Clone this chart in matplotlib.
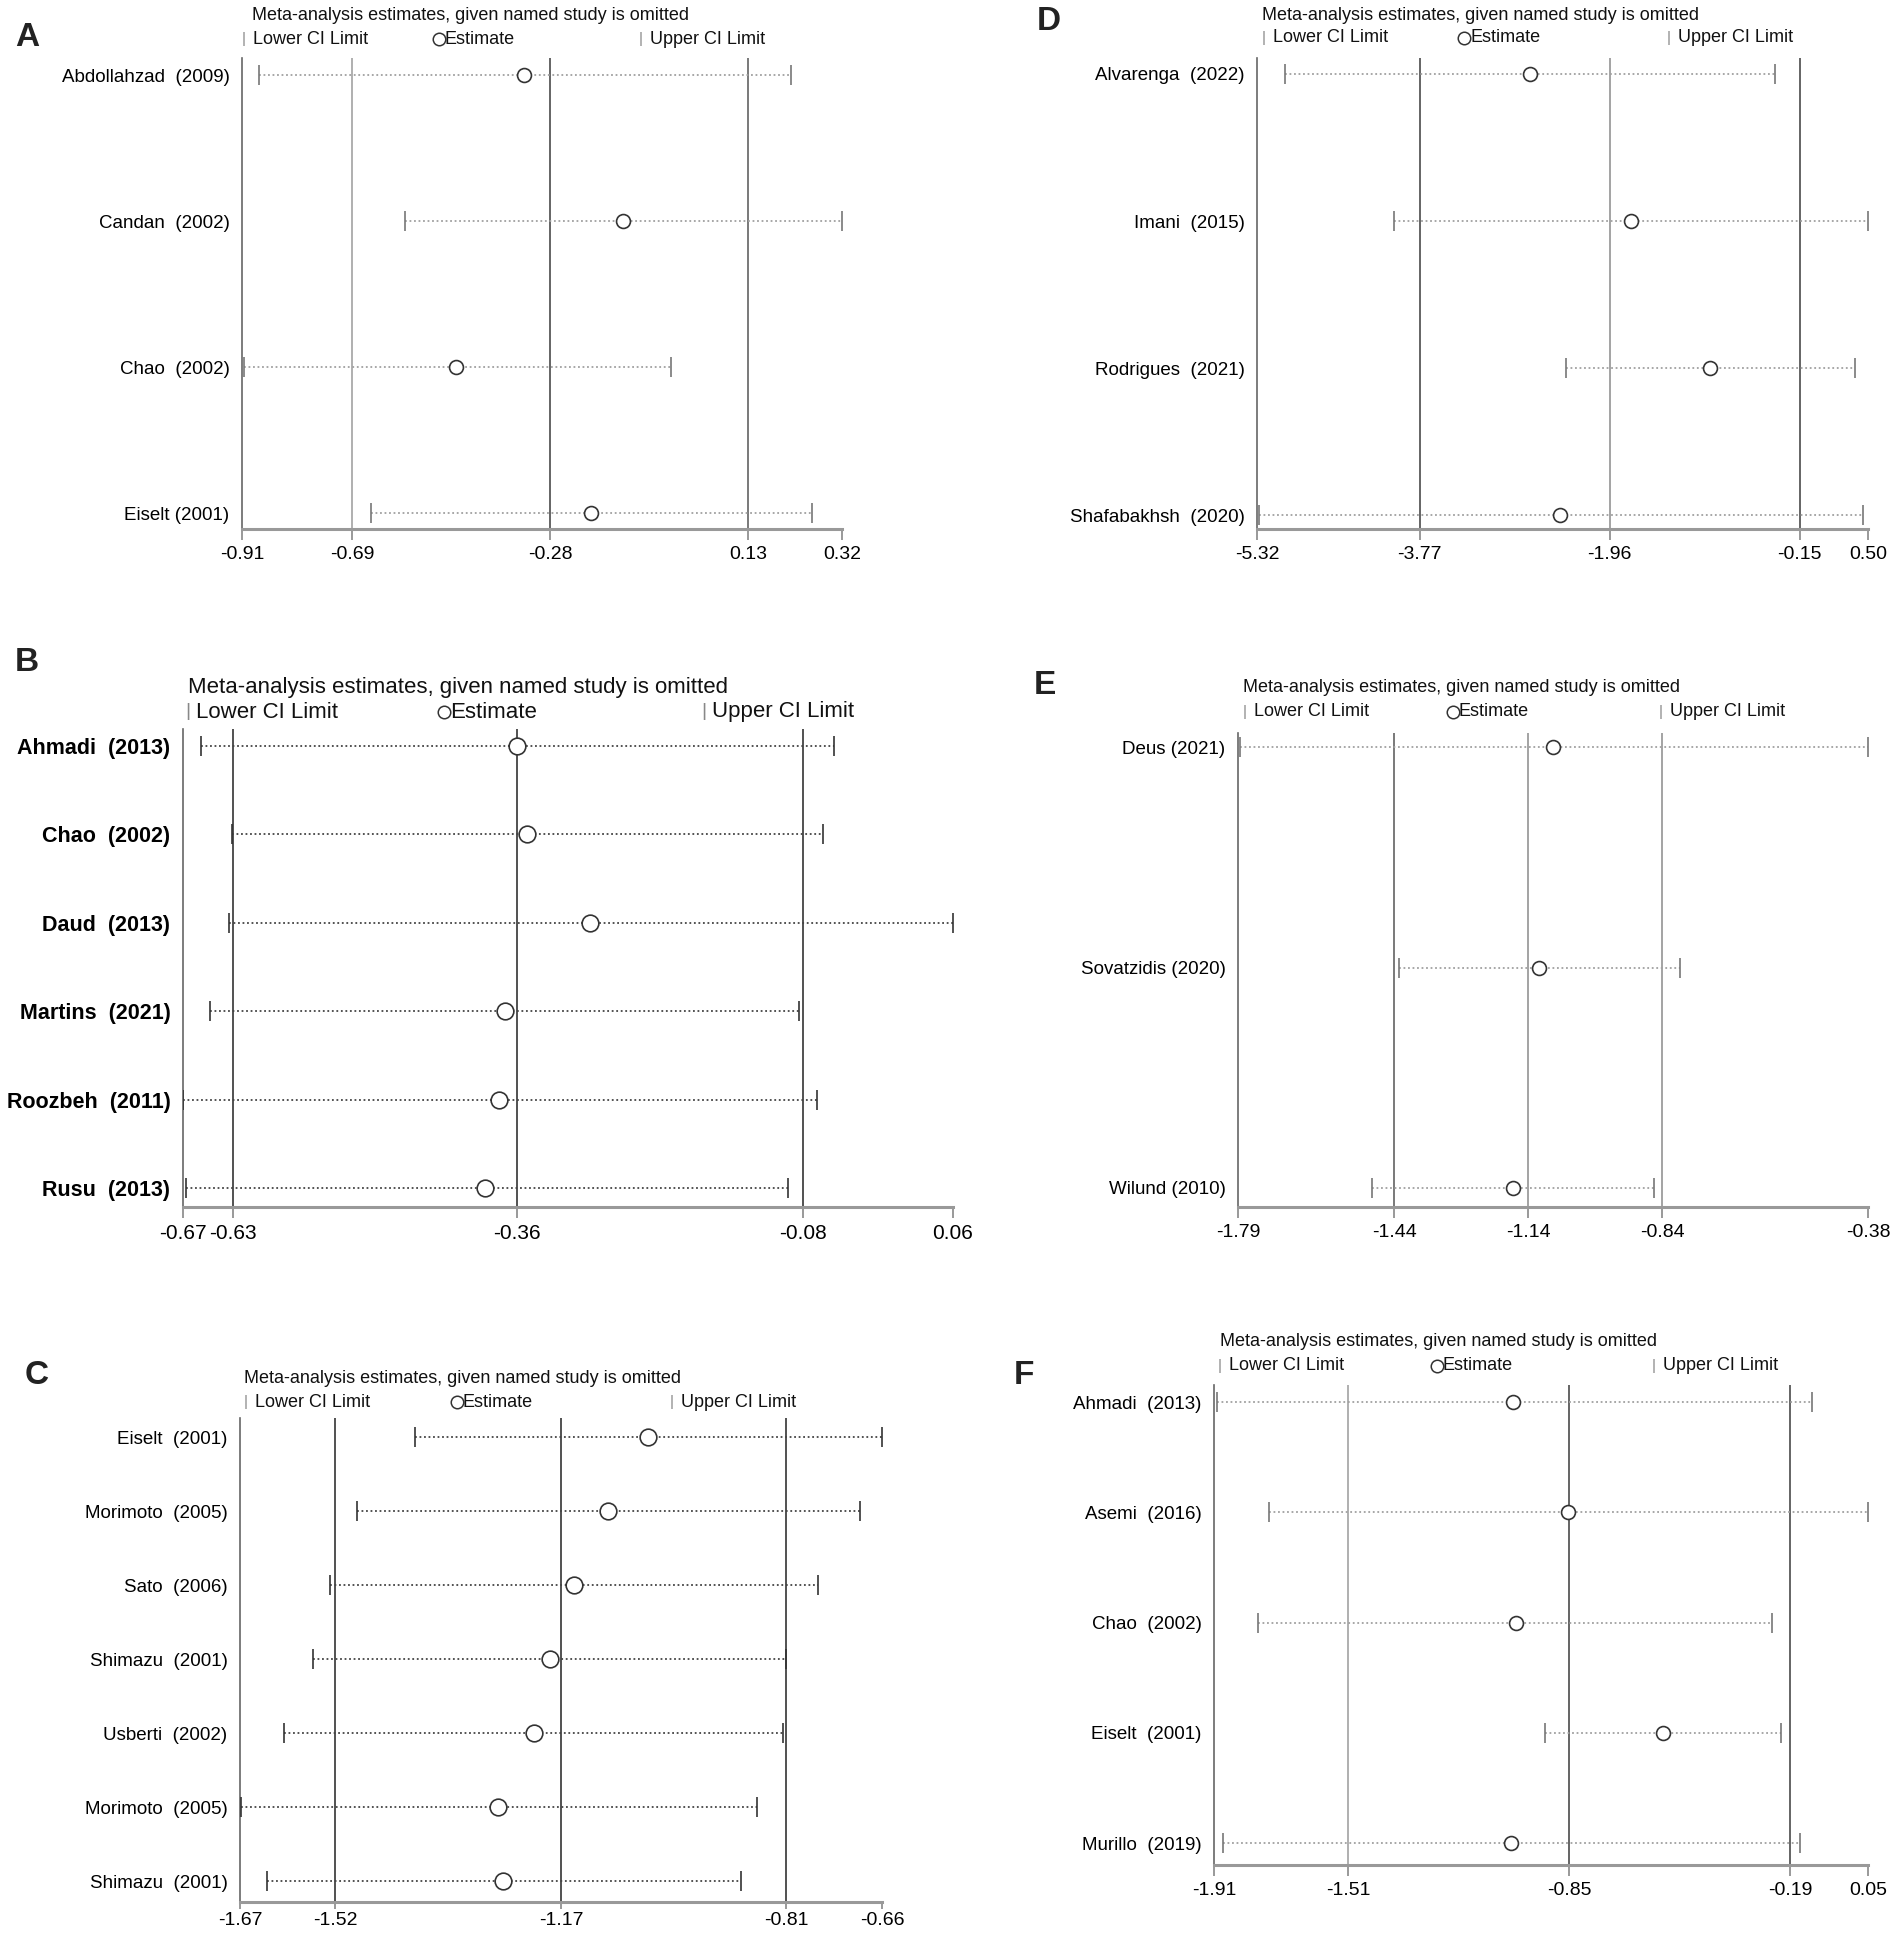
import matplotlib
matplotlib.use("Agg")
import matplotlib.pyplot as plt
from matplotlib.lines import Line2D

W, H = 1902, 1935

# ---------------- data ----------------
A_studies = ["Abdollahzad  (2009)", "Candan  (2002)", "Chao  (2002)", "Eiselt (2001)"]
A_lower = [-0.876, -0.576, -0.905, -0.646]
A_est = [-0.331, -0.129, -0.471, -0.194]
A_upper = [0.216, 0.320, -0.030, 0.259]
A_ticks = [-0.91, -0.684, -0.278, 0.127, 0.32]
A_ticklabels = ["-0.91", "-0.69", "-0.28", "0.13", "0.32"]

B_studies = ["Ahmadi  (2013)", "Chao  (2002)", "Daud  (2013)", "Martins  (2021)", "Roozbeh  (2011)", "Rusu  (2013)"]
B_lower = [-0.653, -0.624, -0.626, -0.644, -0.670, -0.667]
B_est = [-0.353, -0.344, -0.284, -0.365, -0.370, -0.384]
B_upper = [-0.053, -0.063, 0.060, -0.086, -0.069, -0.096]
B_ticks = [-0.67, -0.623, -0.353, -0.082, 0.06]
B_ticklabels = ["-0.67", "-0.63", "-0.36", "-0.08", "0.06"]

C_studies = ["Eiselt  (2001)", "Morimoto  (2005)", "Sato  (2006)", "Shimazu  (2001)", "Usberti  (2002)", "Morimoto  (2005)", "Shimazu  (2001)"]
C_lower = [-1.394, -1.486, -1.529, -1.555, -1.600, -1.668, -1.628]
C_est = [-1.028, -1.091, -1.145, -1.183, -1.208, -1.264, -1.256]
C_upper = [-0.660, -0.695, -0.761, -0.811, -0.816, -0.857, -0.882]
C_ticks = [-1.67, -1.52, -1.165, -0.811, -0.66]
C_ticklabels = ["-1.67", "-1.52", "-1.17", "-0.81", "-0.66"]

D_studies = ["Alvarenga  (2022)", "Imani  (2015)", "Rodrigues  (2021)", "Shafabakhsh  (2020)"]
D_lower = [-5.054, -4.013, -2.381, -5.297]
D_est = [-2.722, -1.762, -1.004, -2.433]
D_upper = [-0.385, 0.500, 0.373, 0.454]
D_ticks = [-5.32, -3.77, -1.96, -0.15, 0.50]
D_ticklabels = ["-5.32", "-3.77", "-1.96", "-0.15", "0.50"]

E_studies = ["Deus (2021)", "Sovatzidis (2020)", "Wilund (2010)"]
E_lower = [-1.785, -1.430, -1.490]
E_est = [-1.086, -1.116, -1.175]
E_upper = [-0.380, -0.801, -0.859]
E_ticks = [-1.79, -1.44, -1.14, -0.84, -0.38]
E_ticklabels = ["-1.79", "-1.44", "-1.14", "-0.84", "-0.38"]

F_studies = ["Ahmadi  (2013)", "Asemi  (2016)", "Chao  (2002)", "Eiselt  (2001)", "Murillo  (2019)"]
F_lower = [-1.901, -1.746, -1.777, -0.919, -1.883]
F_est = [-1.015, -0.850, -1.006, -0.565, -1.021]
F_upper = [-0.119, 0.050, -0.237, -0.210, -0.155]
F_ticks = [-1.91, -1.508, -0.846, -0.183, 0.05]
F_ticklabels = ["-1.91", "-1.51", "-0.85", "-0.19", "0.05"]

TITLE = "Meta-analysis estimates, given named study is omitted"
LEG = ["Lower CI Limit", "Estimate", "Upper CI Limit"]

# ---------------- layout / style ----------------
NARROW = ["Liberation Sans Narrow", "Liberation Sans", "DejaVu Sans"]
REG = ["Liberation Sans", "DejaVu Sans"]

panels = [
    dict(letter="A", studies=A_studies, lo=A_lower, est=A_est, hi=A_upper, ticks=A_ticks, tl=A_ticklabels,
         box=(242, 58, 842, 529), rows=(75, 513), lab=(27, 37), title=(252, 16), leg=(242, 433, 639, 39),
         vcol=["#9a9a9a", "#3a3a3a", "#555555"], dark=False, font=NARROW, fs=13.5, tfs=13, tickfs=14),
    dict(letter="B", studies=B_studies, lo=B_lower, est=B_est, hi=B_upper, ticks=B_ticks, tl=B_ticklabels,
         box=(183, 729, 953, 1207), rows=(746, 1188), lab=(27, 662), title=(188, 687), leg=(185, 438, 701, 712),
         vcol=["#222222", "#222222", "#222222"], dark=True, font=REG, fs=15.5, tfs=16, tickfs=15),
    dict(letter="C", studies=C_studies, lo=C_lower, est=C_est, hi=C_upper, ticks=C_ticks, tl=C_ticklabels,
         box=(240, 1418, 882, 1902), rows=(1437, 1881), lab=(37, 1375), title=(244, 1378), leg=(244, 451, 670, 1402),
         vcol=["#222222", "#222222", "#222222"], dark=True, font=NARROW, fs=13.5, tfs=13, tickfs=14),
    dict(letter="D", studies=D_studies, lo=D_lower, est=D_est, hi=D_upper, ticks=D_ticks, tl=D_ticklabels,
         box=(1257, 58, 1868, 529), rows=(74, 515), lab=(1049, 22), title=(1262, 15), leg=(1262, 1458, 1667, 38),
         vcol=["#3a3a3a", "#8a8a8a", "#3a3a3a"], dark=False, font=NARROW, fs=13.5, tfs=13, tickfs=14),
    dict(letter="E", studies=E_studies, lo=E_lower, est=E_est, hi=E_upper, ticks=E_ticks, tl=E_ticklabels,
         box=(1238, 733, 1868, 1207), rows=(747, 1188), lab=(1045, 685), title=(1243, 687), leg=(1243, 1447, 1659, 712),
         vcol=["#555555", "#8a8a8a", "#8a8a8a"], dark=False, font=NARROW, fs=13.5, tfs=13, tickfs=14),
    dict(letter="F", studies=F_studies, lo=F_lower, est=F_est, hi=F_upper, ticks=F_ticks, tl=F_ticklabels,
         box=(1214, 1385, 1868, 1865), rows=(1402, 1843), lab=(1024, 1375), title=(1220, 1342), leg=(1218, 1431, 1652, 1366),
         vcol=["#9a9a9a", "#3a3a3a", "#3a3a3a"], dark=False, font=NARROW, fs=13.5, tfs=13, tickfs=14),
]

fig = plt.figure(figsize=(W / 100, H / 100), dpi=100)
fig.patch.set_facecolor("white")


def fx(x):
    return x / W


def fy(y):
    return 1 - y / H


for p in panels:
    x0, y0, x1, y1 = p["box"]
    ax = fig.add_axes([fx(x0), fy(y1), (x1 - x0) / W, (y1 - y0) / H])
    n = len(p["studies"])
    r0, r1 = p["rows"]
    s = (r1 - r0) / (n - 1)
    ax.set_ylim(-(y1 - r1) / s, (n - 1) + (r0 - y0) / s)
    ax.set_xlim(p["ticks"][0], p["ticks"][-1])
    ypos = [n - 1 - i for i in range(n)]

    for xv, c in zip(p["ticks"][1:4], p["vcol"]):
        ax.axvline(xv, color=c, lw=1.1, zorder=1)

    lc = "#444444" if p["dark"] else "#a0a0a0"
    capc = "#333333" if p["dark"] else "#777777"
    ms = 12 if p["dark"] else 10
    ax.hlines(ypos, p["lo"], p["hi"], colors=lc, linestyles=(0, (1, 1.5)), lw=1.3, zorder=2)
    ax.plot(p["lo"], ypos, ls="none", marker="|", ms=15, mew=1.2, color=capc, zorder=3)
    ax.plot(p["hi"], ypos, ls="none", marker="|", ms=15, mew=1.2, color=capc, zorder=3)
    ax.plot(p["est"], ypos, ls="none", marker="o", ms=ms, mfc="white", mec="#333333", mew=1.2, zorder=4)

    ax.set_yticks(ypos)
    ax.set_yticklabels(p["studies"], fontfamily=p["font"], fontsize=p["fs"],
                       fontweight=("bold" if p["letter"] == "B" else "normal"))
    ax.tick_params(axis="y", length=0, pad=9)
    ax.set_xticks(p["ticks"])
    ax.set_xticklabels(p["tl"], fontfamily=p["font"], fontsize=p["tickfs"])
    if p["letter"] == "C":
        ax.tick_params(axis="x", length=5, width=1.2, color="#888888", direction="out", pad=2)
    else:
        ax.tick_params(axis="x", length=8, width=1.2, color="#888888", direction="out", pad=4)
    for sp in ["top", "right"]:
        ax.spines[sp].set_visible(False)
    ax.spines["left"].set_color("#666666")
    ax.spines["left"].set_linewidth(1.2)
    ax.spines["bottom"].set_color("#999999")
    ax.spines["bottom"].set_linewidth(2.2)
    ax.set_facecolor("none")

    # panel letter
    fig.text(fx(p["lab"][0]), fy(p["lab"][1]), p["letter"], fontsize=24, fontweight="bold",
             family=REG, ha="center", va="center", color="#222222")
    # title
    tfs = p["tfs"]
    fig.text(fx(p["title"][0]), fy(p["title"][1]), TITLE, fontsize=tfs, family=p["font"],
             ha="left", va="center", color="#111111")
    # legend row
    lx1, lx2, lx3, ly = p["leg"]
    fig.text(fx(lx1), fy(ly), "|", fontsize=tfs - 2, family=REG, color="#888888", ha="left", va="center")
    fig.text(fx(lx1 + 11), fy(ly), LEG[0], fontsize=tfs, family=p["font"], ha="left", va="center", color="#111111")
    fig.add_artist(Line2D([fx(lx2 + 6)], [fy(ly)], marker="o", ms=9, mfc="white", mec="#333333", mew=1.1,
                          transform=fig.transFigure))
    fig.text(fx(lx2 + 12), fy(ly), LEG[1], fontsize=tfs, family=p["font"], ha="left", va="center", color="#111111")
    fig.text(fx(lx3), fy(ly), "|", fontsize=tfs - 2, family=REG, color="#888888", ha="left", va="center")
    fig.text(fx(lx3 + 11), fy(ly), LEG[2], fontsize=tfs, family=p["font"], ha="left", va="center", color="#111111")

fig.savefig("out.png", dpi=100, facecolor="white")
